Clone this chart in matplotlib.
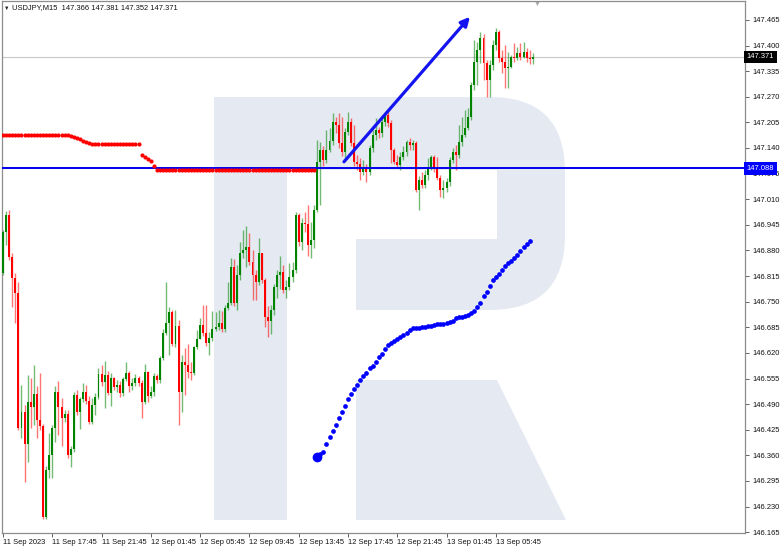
import matplotlib
matplotlib.use("Agg")
import matplotlib.pyplot as plt
import numpy as np
from matplotlib.patches import Rectangle, Polygon, FancyBboxPatch
from matplotlib.transforms import IdentityTransform, blended_transform_factory

plt.rcParams['font.family'] = ['Liberation Sans', 'DejaVu Sans']

# ---------------- data (USDJPY M15) ----------------
first_open = 146.823
close = [146.927, 146.970, 146.863, 146.810, 146.772, 146.429, 146.470, 146.388, 146.495, 146.482,
         146.515, 146.449, 146.434, 146.203, 146.322, 146.360, 146.429, 146.520, 146.482, 146.454,
         146.465, 146.360, 146.376, 146.513, 146.470, 146.503, 146.520, 146.498, 146.444, 146.487,
         146.508, 146.566, 146.546, 146.564, 146.518, 146.556, 146.533, 146.538, 146.518, 146.554,
         146.569, 146.536, 146.543, 146.556, 146.543, 146.495, 146.571, 146.510, 146.520, 146.561,
         146.551, 146.607, 146.670, 146.696, 146.724, 146.643, 146.688, 146.520, 146.597, 146.589,
         146.571, 146.569, 146.635, 146.655, 146.691, 146.670, 146.645, 146.658, 146.681, 146.686,
         146.696, 146.681, 146.734, 146.746, 146.838, 146.746, 146.818, 146.873, 146.881, 146.889,
         146.851, 146.818, 146.800, 146.873, 146.805, 146.711, 146.701, 146.729, 146.787, 146.818,
         146.825, 146.780, 146.787, 146.813, 146.830, 146.970, 146.902, 146.950, 146.947, 146.894,
         146.907, 146.983, 147.105, 147.135, 147.110, 147.135, 147.158, 147.206, 147.199, 147.153,
         147.130, 147.181, 147.206, 147.153, 147.105, 147.099, 147.079, 147.089, 147.079, 147.140,
         147.173, 147.186, 147.178, 147.206, 147.224, 147.204, 147.135, 147.105, 147.097, 147.117,
         147.130, 147.155, 147.148, 147.153, 147.034, 147.059, 147.046, 147.071, 147.092, 147.117,
         147.089, 147.064, 147.034, 147.039, 147.054, 147.110, 147.130, 147.122, 147.155, 147.173,
         147.191, 147.219, 147.300, 147.359, 147.389, 147.419, 147.356, 147.313, 147.351, 147.402,
         147.435, 147.369, 147.359, 147.343, 147.346, 147.371, 147.369, 147.381, 147.371, 147.384,
         147.369, 147.366, 147.371]
high = [146.932, 146.980, 146.983, 146.873, 146.823, 146.800, 146.538, 146.487, 146.564, 146.556,
        146.589, 146.536, 146.569, 146.439, 146.332, 146.416, 146.437, 146.536, 146.548, 146.505,
        146.475, 146.475, 146.383, 146.520, 146.526, 146.508, 146.543, 146.538, 146.510, 146.505,
        146.518, 146.582, 146.589, 146.599, 146.574, 146.569, 146.559, 146.551, 146.548, 146.559,
        146.597, 146.574, 146.556, 146.566, 146.561, 146.551, 146.592, 146.574, 146.536, 146.569,
        146.566, 146.612, 146.681, 146.800, 146.736, 146.729, 146.729, 146.703, 146.615, 146.632,
        146.643, 146.597, 146.637, 146.678, 146.708, 146.741, 146.741, 146.673, 146.726, 146.724,
        146.729, 146.726, 146.741, 146.800, 146.861, 146.858, 146.843, 146.902, 146.932, 146.942,
        146.924, 146.881, 146.830, 146.912, 146.873, 146.810, 146.739, 146.741, 146.795, 146.830,
        146.866, 146.843, 146.805, 146.848, 146.851, 146.978, 146.975, 146.963, 146.978, 146.996,
        146.952, 146.996, 147.160, 147.155, 147.145, 147.186, 147.191, 147.229, 147.219, 147.229,
        147.219, 147.191, 147.232, 147.216, 147.199, 147.122, 147.115, 147.110, 147.099, 147.148,
        147.186, 147.216, 147.193, 147.221, 147.232, 147.234, 147.211, 147.140, 147.122, 147.130,
        147.145, 147.160, 147.165, 147.160, 147.158, 147.069, 147.079, 147.084, 147.115, 147.122,
        147.122, 147.117, 147.071, 147.059, 147.064, 147.117, 147.140, 147.148, 147.199, 147.219,
        147.237, 147.242, 147.308, 147.414, 147.409, 147.435, 147.430, 147.364, 147.364, 147.414,
        147.445, 147.440, 147.389, 147.402, 147.384, 147.376, 147.407, 147.397, 147.407, 147.409,
        147.394, 147.389, 147.381]
low = [146.818, 146.894, 146.856, 146.736, 146.696, 146.424, 146.404, 146.292, 146.343, 146.429,
       146.437, 146.404, 146.424, 146.198, 146.198, 146.302, 146.302, 146.394, 146.411, 146.383,
       146.444, 146.353, 146.330, 146.368, 146.462, 146.426, 146.495, 146.490, 146.439, 146.439,
       146.462, 146.503, 146.536, 146.480, 146.513, 146.485, 146.526, 146.520, 146.508, 146.510,
       146.548, 146.520, 146.526, 146.536, 146.536, 146.454, 146.490, 146.495, 146.505, 146.510,
       146.543, 146.543, 146.602, 146.665, 146.615, 146.637, 146.635, 146.437, 146.470, 146.513,
       146.556, 146.551, 146.564, 146.630, 146.665, 146.663, 146.637, 146.615, 146.650, 146.676,
       146.678, 146.673, 146.673, 146.729, 146.741, 146.739, 146.729, 146.805, 146.861, 146.838,
       146.843, 146.754, 146.754, 146.792, 146.797, 146.686, 146.660, 146.668, 146.716, 146.759,
       146.782, 146.772, 146.759, 146.780, 146.800, 146.823, 146.892, 146.881, 146.927, 146.866,
       146.861, 146.886, 146.978, 146.996, 147.094, 147.102, 147.130, 147.148, 147.178, 147.140,
       147.120, 147.115, 147.173, 147.145, 147.094, 147.084, 147.059, 147.071, 147.054, 147.071,
       147.130, 147.160, 147.166, 147.168, 147.196, 147.193, 147.102, 147.099, 147.089, 147.084,
       147.110, 147.120, 147.135, 147.135, 147.029, 146.983, 147.039, 147.039, 147.059, 147.084,
       147.079, 147.059, 147.016, 147.013, 147.029, 147.044, 147.102, 147.084, 147.115, 147.145,
       147.168, 147.186, 147.211, 147.287, 147.300, 147.356, 147.313, 147.270, 147.270, 147.338,
       147.389, 147.359, 147.331, 147.293, 147.293, 147.343, 147.359, 147.364, 147.364, 147.369,
       147.359, 147.354, 147.352]

# dotted indicator: red part (bars 0..101) and blue part (from bar 102)
ma_red = [147.173, 147.173, 147.173, 147.173, 147.173, 147.173, 147.173, 147.173, 147.173, 147.173,
          147.173, 147.173, 147.173, 147.173, 147.173, 147.173, 147.173, 147.173, 147.173, 147.173,
          147.173, 147.173, 147.171, 147.168, 147.166, 147.163, 147.158, 147.155, 147.153, 147.150,
          147.150, 147.150, 147.150, 147.150, 147.150, 147.150, 147.150, 147.150, 147.150, 147.150,
          147.150, 147.150, 147.150, 147.150, 147.150, 147.122, 147.117, 147.112, 147.107, 147.094,
          147.084, 147.084, 147.084, 147.084, 147.084, 147.084, 147.084, 147.084, 147.084, 147.084,
          147.084, 147.084, 147.084, 147.084, 147.084, 147.084, 147.084, 147.084, 147.084, 147.084,
          147.084, 147.084, 147.084, 147.084, 147.084, 147.084, 147.084, 147.084, 147.084, 147.084,
          147.084, 147.084, 147.084, 147.084, 147.084, 147.084, 147.084, 147.084, 147.084, 147.084,
          147.084, 147.084, 147.084, 147.084, 147.084, 147.084, 147.084, 147.084, 147.084, 147.084,
          147.084, 147.084]
blue_start = 102
ma_blue = [146.355, 146.363, 146.368, 146.388, 146.406, 146.421, 146.437, 146.454, 146.470, 146.485,
           146.503, 146.515, 146.528, 146.538, 146.551, 146.561, 146.569, 146.582, 146.587, 146.597,
           146.610, 146.617, 146.630, 146.640, 146.645, 146.650, 146.655, 146.660, 146.665, 146.670,
           146.678, 146.683, 146.683, 146.683, 146.686, 146.686, 146.688, 146.688, 146.691, 146.693,
           146.693, 146.693, 146.696, 146.698, 146.701, 146.708, 146.711, 146.711, 146.714, 146.716,
           146.721, 146.726, 146.736, 146.746, 146.764, 146.775, 146.790, 146.805, 146.813, 146.820,
           146.830, 146.841, 146.848, 146.853, 146.861, 146.869, 146.879, 146.889, 146.897, 146.904]

level_line = 147.088
last_price = 147.371
arrow_x = [110.7, 151.6]
arrow_y = [147.105, 147.473]

ytick_values = [146.165, 146.230, 146.295, 146.360, 146.425, 146.490, 146.555, 146.620, 146.685,
                146.750, 146.815, 146.880, 146.945, 147.010, 147.075, 147.140, 147.205, 147.270,
                147.335, 147.400, 147.465]
xtick_labels = ["11 Sep 2023", "11 Sep 17:45", "11 Sep 21:45", "12 Sep 01:45", "12 Sep 05:45",
                "12 Sep 09:45", "12 Sep 13:45", "12 Sep 17:45", "12 Sep 21:45", "13 Sep 01:45",
                "13 Sep 05:45"]
header = "USDJPY,M15  147.366 147.381 147.352 147.371"

# ---------------- figure ----------------
W, H = 782, 550
fig = plt.figure(figsize=(W / 100, H / 100), dpi=100)
fig.patch.set_facecolor("white")
ax = fig.add_axes([2 / W, 17 / H, 743 / W, 532 / H])
ax.set_facecolor("white")
ax.set_xlim(-0.33, 240.9)
ax.set_ylim(146.163, 147.513)

# watermark logo (pixel coordinates of the image)
wm = "#e5eaf2"
ident = IdentityTransform()
def P(x, y):
    return (x, H - y)
def prect(x0, y0, x1, y1, color, z=0.5):
    r = Rectangle(P(x0, y1), x1 - x0, y1 - y0, transform=ident, facecolor=color,
                  edgecolor="none", zorder=z)
    ax.add_patch(r)
bowl = FancyBboxPatch(P(214, 310), 565 - 214, 310 - 97,
                      boxstyle="round,pad=0,rounding_size=75", transform=ident,
                      facecolor=wm, edgecolor="none", zorder=0.5)
ax.add_patch(bowl)
prect(214, 97, 287, 520, wm, 0.6)
prect(287, 170, 497, 239, "white", 0.7)
prect(287, 239, 356, 312, "white", 0.7)
leg = Polygon([P(356, 380), P(497, 380), P(566, 520), P(356, 520)], closed=True,
              transform=ident, facecolor=wm, edgecolor="none", zorder=0.5)
ax.add_patch(leg)

# candles
n = len(close)
opens = [first_open] + close[:-1]
xs = np.arange(n)
for i in range(n):
    o, c = opens[i], close[i]
    h = max(high[i], o, c)
    l = min(low[i], o, c)
    col = "#008400" if c >= o else "#ff0000"
    ax.vlines(xs[i], l, h, colors=col, lw=1.0, alpha=0.55, zorder=2)
    body = max(abs(c - o), 0.0012)
    ax.bar(xs[i], body, bottom=min(o, c), width=0.64, color=col, linewidth=0, zorder=3)

# horizontal lines
ax.axhline(last_price, color="#c8c8c8", lw=0.8, zorder=1)
ax.axhline(level_line, color="#0000ee", lw=1.4, zorder=4)

# indicator dots
ax.plot(np.arange(len(ma_red)), ma_red, "o", color="#ff0000", ms=3.0, mec="none", zorder=5)
bx = np.arange(blue_start, blue_start + len(ma_blue))
ax.plot(bx, ma_blue, "o", color="#0000ff", ms=3.4, mec="none", zorder=5)
ax.plot(bx[0], ma_blue[0], "o", color="#0000ff", ms=7, mec="none", zorder=5)

# trend arrow
ax.annotate("", xy=(arrow_x[1], arrow_y[1]), xytext=(arrow_x[0], arrow_y[0]),
            arrowprops=dict(arrowstyle="-|>", color="#1414f0", lw=2.3, mutation_scale=13,
                            shrinkA=0, shrinkB=0), zorder=6)

# axes styling
for s in ["top", "left", "right", "bottom"]:
    ax.spines[s].set_color("#8c8c8c")
    ax.spines[s].set_linewidth(0.9)
ax.yaxis.tick_right()
ax.set_yticks(ytick_values)
ax.set_yticklabels([f"{v:.3f}" for v in ytick_values])
ax.set_xticks(range(0, 16 * len(xtick_labels), 16))
ax.set_xticklabels(xtick_labels, ha="left")
ax.tick_params(axis="y", length=3, width=0.7, color="#606060", pad=2.5, labelsize=5.4,
               labelcolor="#111111")
ax.tick_params(axis="x", length=3, width=0.7, color="#606060", pad=1.2, labelsize=5.4,
               labelcolor="#111111")

# price labels on the axis
bt = blended_transform_factory(ax.transAxes, ax.transData)
ax.text(1.002, last_price, "147.371", transform=bt, ha="left", va="center", fontsize=5.4,
        color="white", clip_on=False, zorder=10,
        bbox=dict(boxstyle="square,pad=0.35", fc="black", ec="none"))
ax.text(1.002, level_line, "147.088", transform=bt, ha="left", va="center", fontsize=5.4,
        color="white", clip_on=False, zorder=10,
        bbox=dict(boxstyle="square,pad=0.35", fc="#0000ff", ec="none"))

# header
fig.text(4 / W, 1 - 8 / H, "\u25BC", fontsize=4, va="center", ha="left", color="#222222")
fig.text(12 / W, 1 - 8 / H, header, fontsize=5.4, va="center", ha="left", color="#111111")
fig.text(537 / W, 1 - 4 / H, "\u25BC", fontsize=5, va="center", ha="center", color="#a8a8a8")

fig.savefig("out.png", dpi=100)
